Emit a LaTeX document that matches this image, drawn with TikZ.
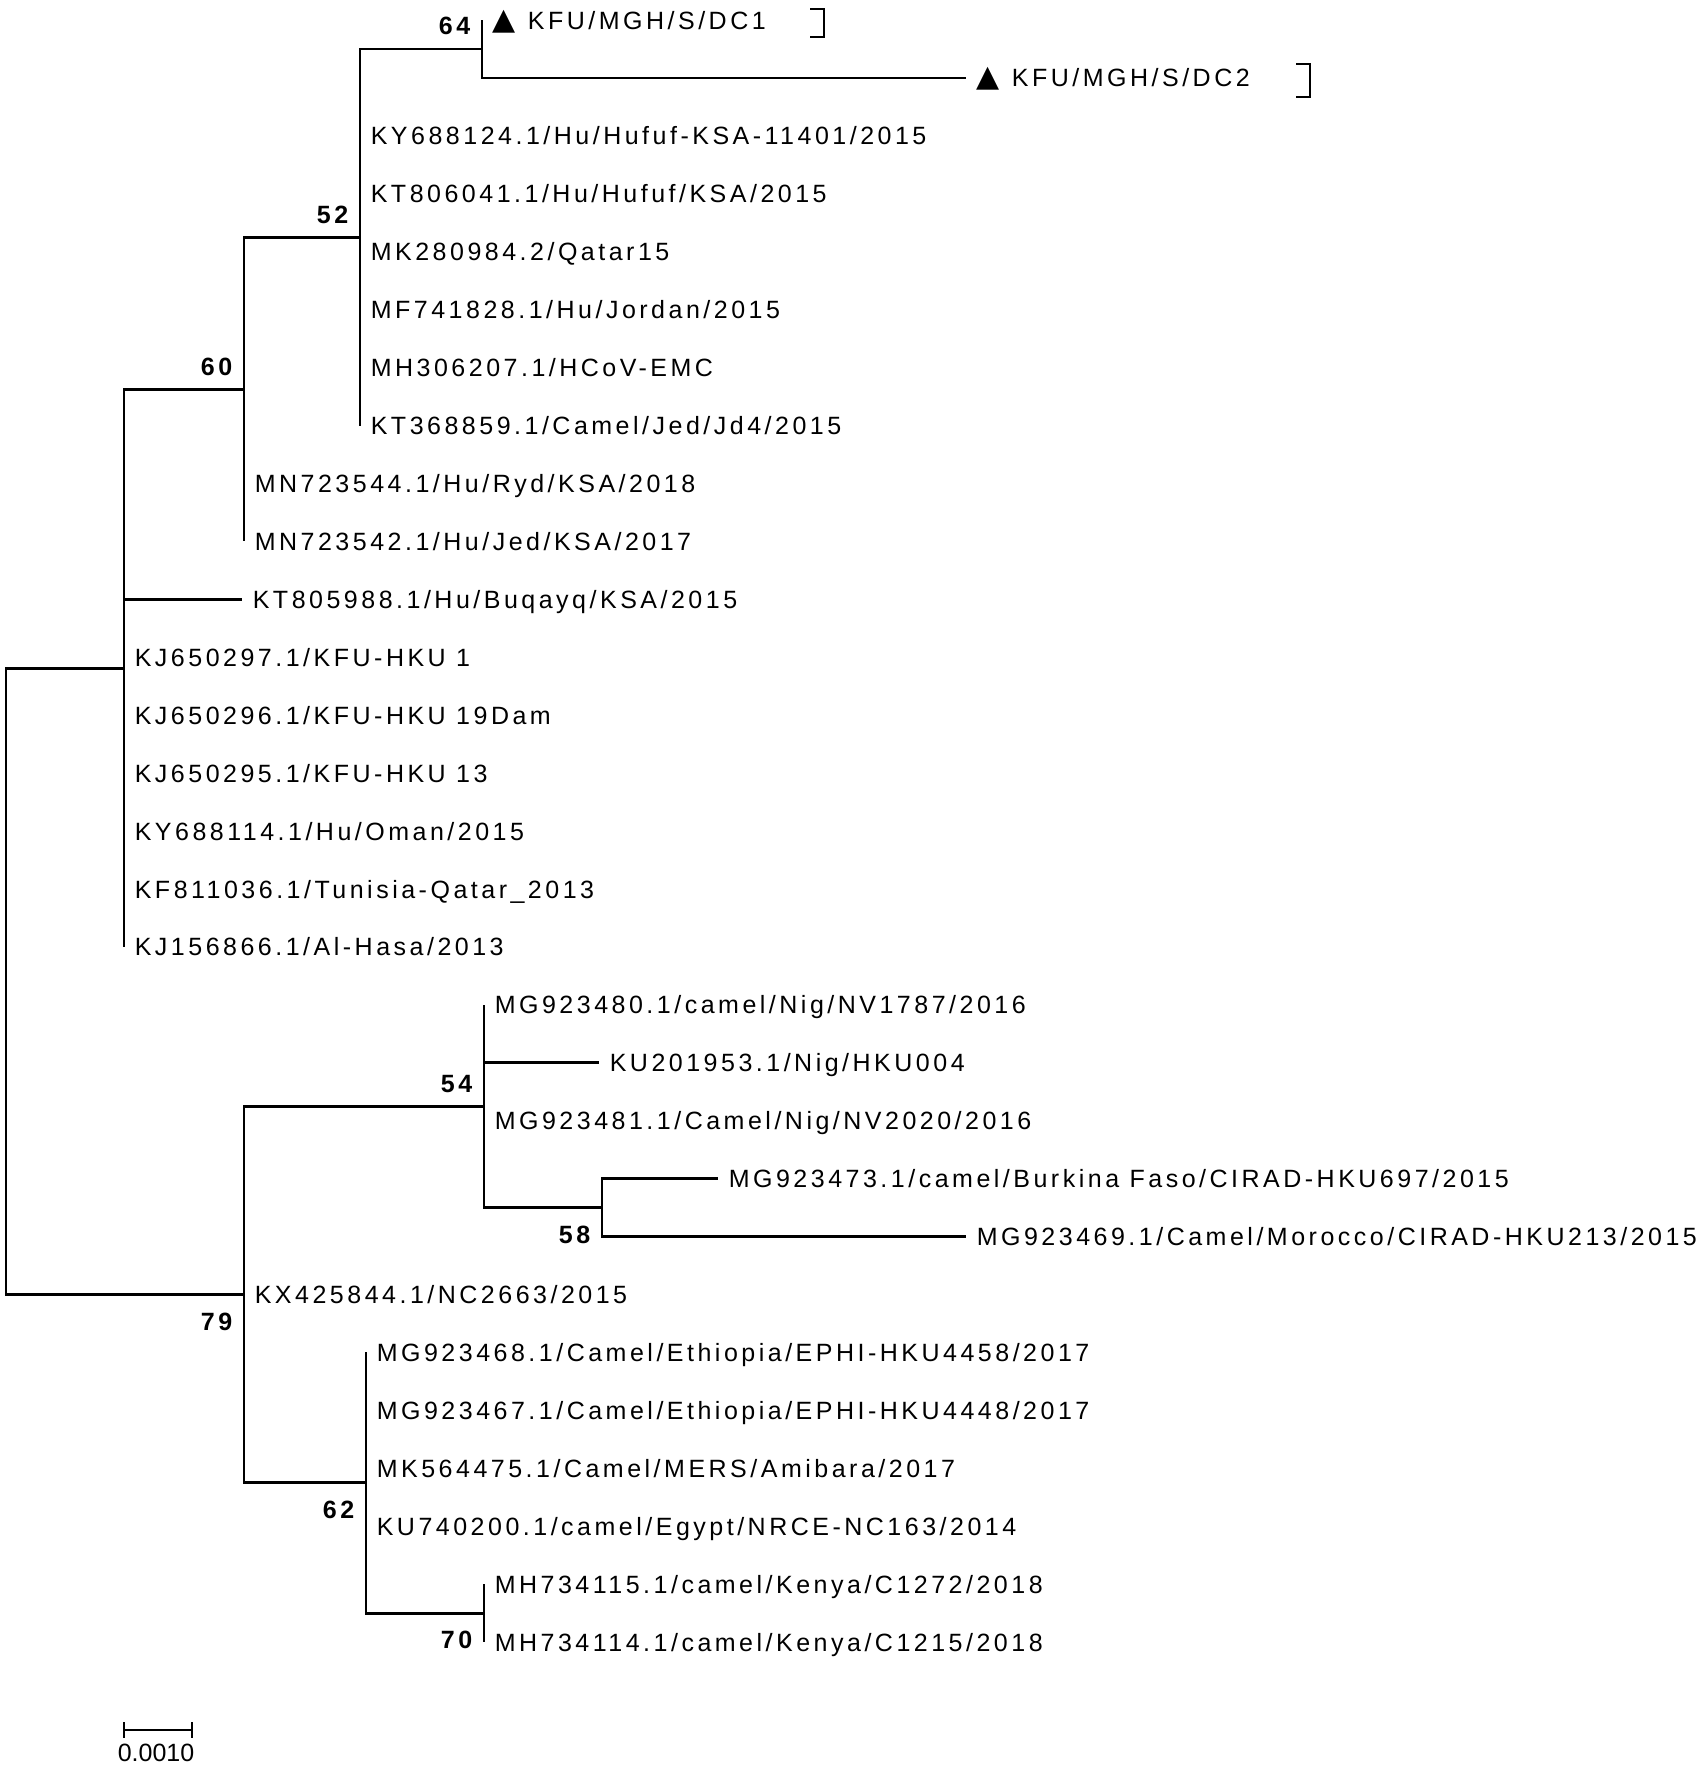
\documentclass[tikz,border=0pt]{standalone}
\usepackage{fontspec}
\setmainfont{Liberation Sans}[LetterSpace=14]
\newfontfamily\barfont{Liberation Sans}
\newfontfamily\trifont{DejaVu Sans}
\usetikzlibrary{positioning}

\newcommand{\tri}{{\trifont\fontsize{7.5}{8}\selectfont ▲}\hspace{3pt}}

\tikzset{
  branch/.style={line width=0.7pt},
  bracket/.style={line width=0.7pt},
  taxon/.style={anchor=west, inner sep=2.5pt, text height=4.5pt, text depth=0pt,
    font=\fontsize{6.25}{7.5}\selectfont},
  boot/.style={inner sep=0pt, font=\fontsize{6.25}{7.5}\selectfont\bfseries},
}

\begin{document}
\begin{tikzpicture}[x=0.25pt, y=-0.25pt]
  \useasboundingbox (0,0) rectangle (1700,1767);

  % internal nodes
  \coordinate (root) at (6,981.3);
  \coordinate (nA) at (124,668.1);
  \coordinate (n60) at (244,389.3);
  \coordinate (n52) at (360,237.2);
  \coordinate (n64) at (482,49.0);
  \coordinate (n79) at (244,1294.5);
  \coordinate (n54) at (484,1106.2);
  \coordinate (n58) at (602,1207.6);
  \coordinate (n62) at (366,1482.7);
  \coordinate (n70) at (484,1613.1);

  % taxa
  \node[taxon] (dc1) at (482,20.0) {\tri KFU/MGH/S/DC1};
  \node[taxon] (dc2) at (966,77.9) {\tri KFU/MGH/S/DC2};
  \node[taxon] (ky124) at (360,135.9) {KY688124.1/Hu/Hufuf-KSA-11401/2015};
  \node[taxon] (kt041) at (360,193.8) {KT806041.1/Hu/Hufuf/KSA/2015};
  \node[taxon] (mk984) at (360,251.7) {MK280984.2/Qatar15};
  \node[taxon] (mf828) at (360,309.7) {MF741828.1/Hu/Jordan/2015};
  \node[taxon] (mh207) at (360,367.6) {MH306207.1/HCoV-EMC};
  \node[taxon] (kt859) at (360,425.5) {KT368859.1/Camel/Jed/Jd4/2015};
  \node[taxon] (mn544) at (244,483.4) {MN723544.1/Hu/Ryd/KSA/2018};
  \node[taxon] (mn542) at (244,541.4) {MN723542.1/Hu/Jed/KSA/2017};
  \node[taxon] (kt988) at (242,599.3) {KT805988.1/Hu/Buqayq/KSA/2015};
  \node[taxon] (kj297) at (124,657.2) {KJ650297.1/KFU-HKU 1};
  \node[taxon] (kj296) at (124,715.2) {KJ650296.1/KFU-HKU 19Dam};
  \node[taxon] (kj295) at (124,773.1) {KJ650295.1/KFU-HKU 13};
  \node[taxon] (ky114) at (124,831.0) {KY688114.1/Hu/Oman/2015};
  \node[taxon] (kf036) at (124,889.0) {KF811036.1/Tunisia-Qatar\_2013};
  \node[taxon] (kj866) at (124,946.9) {KJ156866.1/Al-Hasa/2013};
  \node[taxon] (mg480) at (484,1004.8) {MG923480.1/camel/Nig/NV1787/2016};
  \node[taxon] (ku953) at (599,1062.7) {KU201953.1/Nig/HKU004};
  \node[taxon] (mg481) at (484,1120.7) {MG923481.1/Camel/Nig/NV2020/2016};
  \node[taxon] (mg473) at (718,1178.6) {MG923473.1/camel/Burkina Faso/CIRAD-HKU697/2015};
  \node[taxon] (mg469) at (966,1236.5) {MG923469.1/Camel/Morocco/CIRAD-HKU213/2015};
  \node[taxon] (kx844) at (244,1294.5) {KX425844.1/NC2663/2015};
  \node[taxon] (mg468) at (366,1352.4) {MG923468.1/Camel/Ethiopia/EPHI-HKU4458/2017};
  \node[taxon] (mg467) at (366,1410.3) {MG923467.1/Camel/Ethiopia/EPHI-HKU4448/2017};
  \node[taxon] (mk475) at (366,1468.3) {MK564475.1/Camel/MERS/Amibara/2017};
  \node[taxon] (ku200) at (366,1526.2) {KU740200.1/camel/Egypt/NRCE-NC163/2014};
  \node[taxon] (mh115) at (484,1584.1) {MH734115.1/camel/Kenya/C1272/2018};
  \node[taxon] (mh114) at (484,1642.0) {MH734114.1/camel/Kenya/C1215/2018};

  % branches
  \draw[branch] (root) |- (nA) (root) |- (n79);
  \draw[branch] (nA) |- (n60) (nA) |- (kt988.west) (nA) |- (kj297.west) (nA) |- (kj866.west);
  \draw[branch] (n60) |- (n52) (n60) |- (mn542.west);
  \draw[branch] (n52) |- (n64) (n52) |- (kt859.west);
  \draw[branch] (n64) |- (dc1.west) (n64) |- (dc2.west);
  \draw[branch] (n79) |- (n54) (n79) |- (n62);
  \draw[branch] (n54) |- (mg480.west) (n54) |- (ku953.west) (n54) |- (n58);
  \draw[branch] (n58) |- (mg473.west) (n58) |- (mg469.west);
  \draw[branch] (n62) |- (mg468.west) (n62) |- (n70);
  \draw[branch] (n70) |- (mh115.west) (n70) |- (mh114.west);

  % bootstrap values
  \node[boot, above left=3.25pt and 2.75pt of n64] {64};
  \node[boot, above left=3.25pt and 2.75pt of n52] {52};
  \node[boot, above left=3.25pt and 2.75pt of n60] {60};
  \node[boot, above left=3.25pt and 2.75pt of n54] {54};
  \node[boot, below left=4.4pt and 2.75pt of n58] {58};
  \node[boot, below left=4.4pt and 2.75pt of n79] {79};
  \node[boot, below left=4.4pt and 2.75pt of n62] {62};
  \node[boot, below left=4.4pt and 2.75pt of n70] {70};

  % brackets
  \draw[bracket] (810,9) -- (824,9) -- (824,37) -- (810,37);
  \draw[bracket] (1296,64) -- (1310,64) -- (1310,97) -- (1296,97);

  % scale bar
  \coordinate (sb1) at (124,1730);
  \coordinate (sb2) at (192,1730);
  \draw[branch] (sb1) -- (sb2);
  \draw[branch] (124,1722) -- (124,1738) (192,1722) -- (192,1738);
  \node[inner sep=0pt, font=\barfont\fontsize{6.25}{7.5}\selectfont] (sblab) at (156,1753) {0.0010};
\end{tikzpicture}
\end{document}
